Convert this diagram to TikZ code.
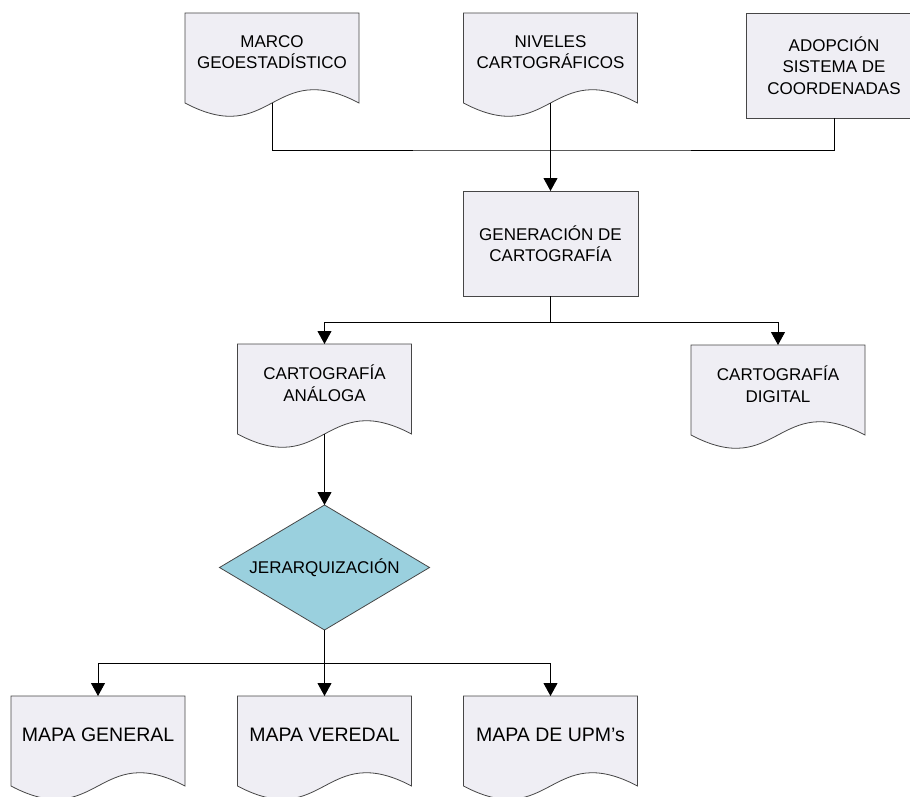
\documentclass[tikz,border=0pt]{standalone}
\usepackage{fontspec}
\setmainfont{Liberation Sans}
\usetikzlibrary{calc,backgrounds,shapes.geometric,arrows.meta}
\definecolor{boxfill}{RGB}{239,238,244}
\definecolor{diafill}{RGB}{154,208,222}
\definecolor{edge}{RGB}{70,70,70}
% outline of a document node: straight top and sides, wavy bottom
\newcommand{\docbox}[1]{%
  \coordinate (#1-foot) at ($(#1.south)+(0,-12pt)$);
  \path[docline] (#1.north west) -- (#1.north east) -- ($(#1.south east)+(0,-12pt)$)
    .. controls ($(#1-foot)+(0,46pt)$) and ($(#1-foot)+(0,-46pt)$) .. ($(#1.south west)+(0,-12pt)$) -- cycle;}
\begin{document}
\begin{tikzpicture}[x=1pt,y=1pt,
  txt/.style={font=\fontsize{17}{21.5}\selectfont,align=center,inner sep=0pt,outer sep=0pt},
  doc/.style={txt,minimum width=174pt,minimum height=78pt},
  bigdoc/.style={doc,font=\fontsize{19.5}{23}\selectfont},
  docline/.style={draw=edge,fill=boxfill,line width=0.8pt},
  proc/.style={txt,draw=edge,fill=boxfill,line width=0.8pt,minimum width=175pt,minimum height=105pt},
  decide/.style={txt,diamond,aspect=1.68,draw=edge,fill=diafill,line width=0.8pt,minimum width=210pt,minimum height=125pt},
  line/.style={line width=0.9pt},
  arr/.style={line width=0.9pt,-{Triangle[width=14pt,length=13pt]}}]
\useasboundingbox (0,0) rectangle (910,-797);
%\draw[gray,help lines] (0,0) grid[step=50] (910,-797);
% sources
\node[doc,anchor=north] (mc) at (272,-13) {MARCO\\GEOESTADÍSTICO};
\node[doc,anchor=north] (nc) at (550.5,-13) {NIVELES\\CARTOGRÁFICOS};
\node[proc,anchor=north] (ad) at (834,-13) {ADOPCIÓN\\SISTEMA DE\\COORDENADAS};
\node[proc,anchor=north] (gen) at (550.5,-191) {GENERACIÓN DE\\CARTOGRAFÍA};
% products
\node[doc,anchor=north] (ana) at (324.5,-344) {CARTOGRAFÍA\\ANÁLOGA};
\node[doc,anchor=north] (dig) at (778,-345) {CARTOGRAFÍA\\DIGITAL};
\node[decide] (jer) at (324.5,-567.5) {JERARQUIZACIÓN};
\node[bigdoc,anchor=north] (mg) at (98,-696) {MAPA GENERAL};
\node[bigdoc,anchor=north] (mv) at (324.5,-696) {MAPA VEREDAL};
\node[bigdoc,anchor=north] (mu) at (550.5,-696) {MAPA DE UPM’s};
\begin{pgfonlayer}{background}
\docbox{mc} \docbox{nc} \docbox{ana} \docbox{dig}
\docbox{mg} \docbox{mv} \docbox{mu}
\end{pgfonlayer}
% connectors
\coordinate (bus1) at ($(gen.north)+(0,41pt)$);
\coordinate (bus2) at ($(gen.south)+(0,-26pt)$);
\coordinate (bus3) at ($(jer.south)+(0,-33pt)$);
\draw[line] (mc-foot) |- (bus1) -| (ad.south);
\draw[arr] (nc-foot) -- (gen.north);
\draw[arr] (gen.south) -- (bus2) -| (ana.north);
\draw[arr] (bus2) -| (dig.north);
\draw[arr] (ana-foot) -- (jer.north);
\draw[line] (jer.south) -- (bus3);
\draw[arr] (bus3) -| (mg.north);
\draw[arr] (bus3) -- (mv.north);
\draw[arr] (bus3) -| (mu.north);
\end{tikzpicture}
\end{document}
